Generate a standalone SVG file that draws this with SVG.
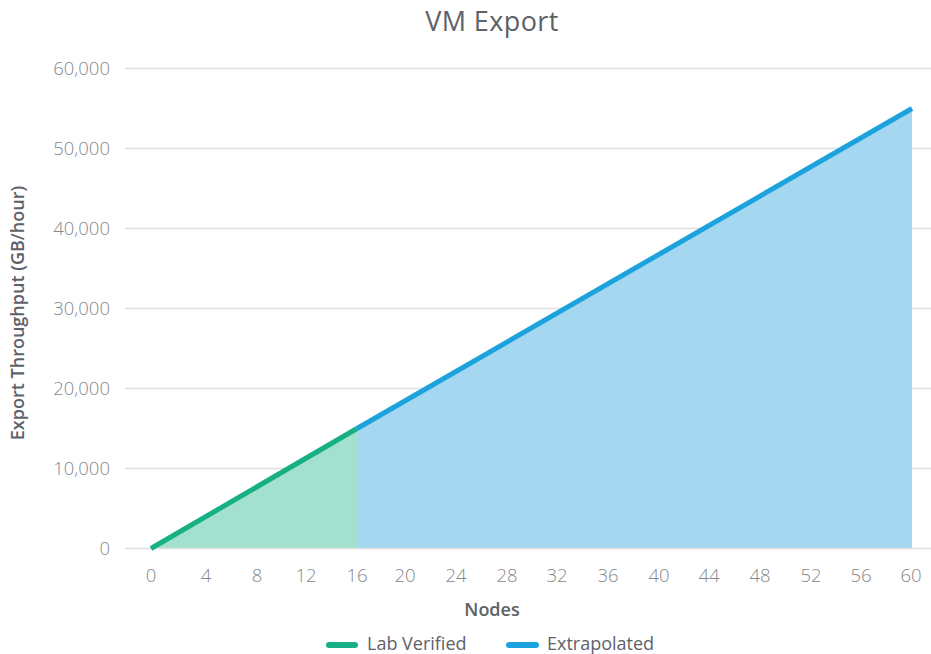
<svg xmlns="http://www.w3.org/2000/svg" width="931" height="654" viewBox="0 0 931 654">
  <style>
    .title { font-family: "Open Sans", Lato, sans-serif; font-size: 27px; font-weight: 500; fill: #5d6168; text-anchor: middle; letter-spacing: 0.4px; }
    .axis-title { font-family: "Open Sans", Lato, sans-serif; font-size: 18px; font-weight: 600; fill: #5d6168; text-anchor: middle; }
    .tick { font-family: "Open Sans", Lato, sans-serif; font-size: 18.5px; font-weight: 300; fill: #85888c; }
    .ytick { text-anchor: end; }
    .xtick { text-anchor: middle; }
    .grid { stroke: #dedede; stroke-width: 1.5; }
    .legend { font-family: "Open Sans", Lato, sans-serif; font-size: 18px; font-weight: 400; fill: #5d6168; }
    .swatch { stroke-width: 6; stroke-linecap: round; }
  </style>

  <rect width="931" height="654" fill="#ffffff"/>

  <text class="title" x="492" y="31">VM Export</text>

  <!-- horizontal grid lines, 10,000 per 80px -->
  <g id="grid">
    <line class="grid" x1="125" y1="68.5" x2="931" y2="68.5"/>
    <line class="grid" x1="125" y1="148.5" x2="931" y2="148.5"/>
    <line class="grid" x1="125" y1="228.5" x2="931" y2="228.5"/>
    <line class="grid" x1="125" y1="308.5" x2="931" y2="308.5"/>
    <line class="grid" x1="125" y1="388.5" x2="931" y2="388.5"/>
    <line class="grid" x1="125" y1="468.5" x2="931" y2="468.5"/>
  </g>

  <!-- y tick labels -->
  <g id="y-axis">
    <text class="tick ytick" x="110" y="75">60,000</text>
    <text class="tick ytick" x="110" y="155">50,000</text>
    <text class="tick ytick" x="110" y="235">40,000</text>
    <text class="tick ytick" x="110" y="315">30,000</text>
    <text class="tick ytick" x="110" y="395">20,000</text>
    <text class="tick ytick" x="110" y="475">10,000</text>
    <text class="tick ytick" x="110" y="555">0</text>
    <text class="axis-title" transform="translate(24 313) rotate(-90)">Export Throughput (GB/hour)</text>
  </g>

  <!-- filled areas under each series -->
  <g id="areas">
    <polygon points="151,548.5 357,428.5 357,548.5" fill="#a3e0cd"/>
    <polygon points="357,428.5 912,108.5 912,548.5 357,548.5" fill="#a5d8f0"/>
  </g>

  <!-- baseline -->
  <line class="grid" x1="125" y1="548.5" x2="931" y2="548.5"/>

  <!-- series lines -->
  <g id="connectors">
    <line id="lab-verified-line" x1="151" y1="548.5" x2="357" y2="428.5" stroke="#17b084" stroke-width="5"/>
    <line id="extrapolated-line" x1="357" y1="428.5" x2="912" y2="108.5" stroke="#1ca2dc" stroke-width="5"/>
  </g>

  <!-- x tick labels, 0..60 step 4 -->
  <g id="x-axis">
    <text class="tick xtick" x="151" y="582">0</text>
    <text class="tick xtick" x="206" y="582">4</text>
    <text class="tick xtick" x="257" y="582">8</text>
    <text class="tick xtick" x="306" y="582">12</text>
    <text class="tick xtick" x="357" y="582">16</text>
    <text class="tick xtick" x="405" y="582">20</text>
    <text class="tick xtick" x="456" y="582">24</text>
    <text class="tick xtick" x="507" y="582">28</text>
    <text class="tick xtick" x="557" y="582">32</text>
    <text class="tick xtick" x="608" y="582">36</text>
    <text class="tick xtick" x="659" y="582">40</text>
    <text class="tick xtick" x="709" y="582">44</text>
    <text class="tick xtick" x="760" y="582">48</text>
    <text class="tick xtick" x="811" y="582">52</text>
    <text class="tick xtick" x="861" y="582">56</text>
    <text class="tick xtick" x="911" y="582">60</text>
    <text class="axis-title" x="492" y="616">Nodes</text>
  </g>

  <!-- legend -->
  <g id="legend-lab-verified">
    <line class="swatch" x1="329" y1="645" x2="355" y2="645" stroke="#17b084"/>
    <text class="legend" x="367" y="650">Lab Verified</text>
  </g>
  <g id="legend-extrapolated">
    <line class="swatch" x1="509" y1="645" x2="536" y2="645" stroke="#1ca2dc"/>
    <text class="legend" x="547" y="650">Extrapolated</text>
  </g>
</svg>
